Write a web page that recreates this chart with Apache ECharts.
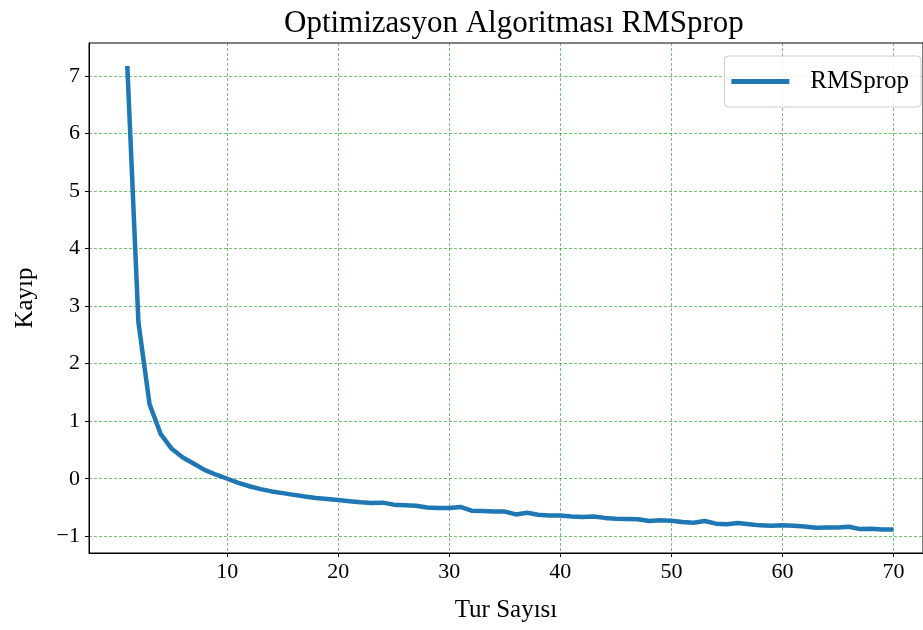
<!DOCTYPE html>
<html>
<head>
<meta charset="utf-8">
<script src="https://cdn.jsdelivr.net/npm/echarts@6/dist/echarts.min.js"></script>
<style>html,body{margin:0;padding:0;background:#fff}#c{width:923px;height:630px}</style>
</head>
<body>
<div id="c"></div>
<script>
var epochs = [1,2,3,4,5,6,7,8,9,10,11,12,13,14,15,16,17,18,19,20,21,22,23,24,25,26,27,28,29,30,31,32,33,34,35,36,37,38,39,40,41,42,43,44,45,46,47,48,49,50,51,52,53,54,55,56,57,58,59,60,61,62,63,64,65,66,67,68,69,70];
var losses = [7.17,2.72,1.30,0.78,0.52,0.37,0.26,0.15,0.07,0.0,
  -0.07,-0.13,-0.18,-0.22,-0.25,-0.28,-0.31,-0.335,-0.35,-0.37,
  -0.39,-0.41,-0.42,-0.415,-0.45,-0.46,-0.47,-0.50,-0.51,-0.51,
  -0.49,-0.555,-0.56,-0.57,-0.57,-0.62,-0.59,-0.625,-0.64,-0.64,
  -0.655,-0.665,-0.655,-0.68,-0.695,-0.70,-0.705,-0.735,-0.72,-0.73,
  -0.75,-0.765,-0.735,-0.78,-0.79,-0.77,-0.79,-0.81,-0.815,-0.81,
  -0.815,-0.83,-0.85,-0.845,-0.845,-0.835,-0.875,-0.87,-0.88,-0.88];
var xTicks = [10,20,30,40,50,60,70];
var yTicks = [-1,0,1,2,3,4,5,6,7];

var FONT = '"Liberation Serif", "DejaVu Serif", serif';
var chart = echarts.init(document.getElementById('c'));
var seriesData = epochs.map(function (e, i) { return [e, losses[i]]; });
var gridLine = { show: true, lineStyle: { color: 'rgba(0,150,0,0.7)', type: [3, 2], width: 0.8 } };
chart.setOption({
  animation: false,
  title: {
    text: 'Optimizasyon Algoritması RMSprop',
    left: 279, top: 3,
    textStyle: { fontFamily: FONT, fontSize: 31, fontWeight: 'normal', color: '#000' }
  },
  legend: {
    right: 2, top: 56,
    icon: 'rect', itemWidth: 58, itemHeight: 5, itemGap: 10,
    padding: [13, 12, 13, 7],
    borderColor: '#cccccc', borderWidth: 1, borderRadius: 4,
    backgroundColor: 'rgba(255,255,255,0.85)',
    textStyle: { fontFamily: FONT, fontSize: 25, color: '#000', padding: [0, 0, 0, 16] },
    data: ['RMSprop']
  },
  grid: { left: 89, right: -2, top: 43, bottom: 77, show: true, borderColor: '#000', borderWidth: 1 },
  xAxis: {
    type: 'value', min: -2.45, max: 72.66,
    name: 'Tur Sayısı', nameLocation: 'middle', nameGap: 45,
    nameTextStyle: { fontFamily: FONT, fontSize: 25, color: '#000' },
    axisLine: { show: true, onZero: false, lineStyle: { color: '#000', width: 1 } },
    axisTick: { show: true, length: 4, lineStyle: { color: '#000' }, customValues: xTicks },
    axisLabel: { fontFamily: FONT, fontSize: 22, color: '#000', margin: 8, customValues: xTicks },
    splitLine: gridLine
  },
  yAxis: {
    type: 'value', min: -1.29, max: 7.57,
    name: 'Kayıp', nameLocation: 'middle', nameGap: 51, nameRotate: 90,
    nameTextStyle: { fontFamily: FONT, fontSize: 25, color: '#000' },
    axisLine: { show: true, onZero: false, lineStyle: { color: '#000', width: 1 } },
    axisTick: { show: true, length: 4, lineStyle: { color: '#000' }, customValues: yTicks },
    axisLabel: {
      fontFamily: FONT, fontSize: 22, color: '#000', margin: 9, customValues: yTicks,
      formatter: function (v) { return String(v).replace('-', '\u2212'); }
    },
    splitLine: gridLine
  },
  series: [{
    name: 'RMSprop', type: 'line', data: seriesData,
    showSymbol: false, symbol: 'none',
    lineStyle: { color: '#1f77b4', width: 4.5 },
    itemStyle: { color: '#1f77b4' }
  }]
});
</script>
</body>
</html>
